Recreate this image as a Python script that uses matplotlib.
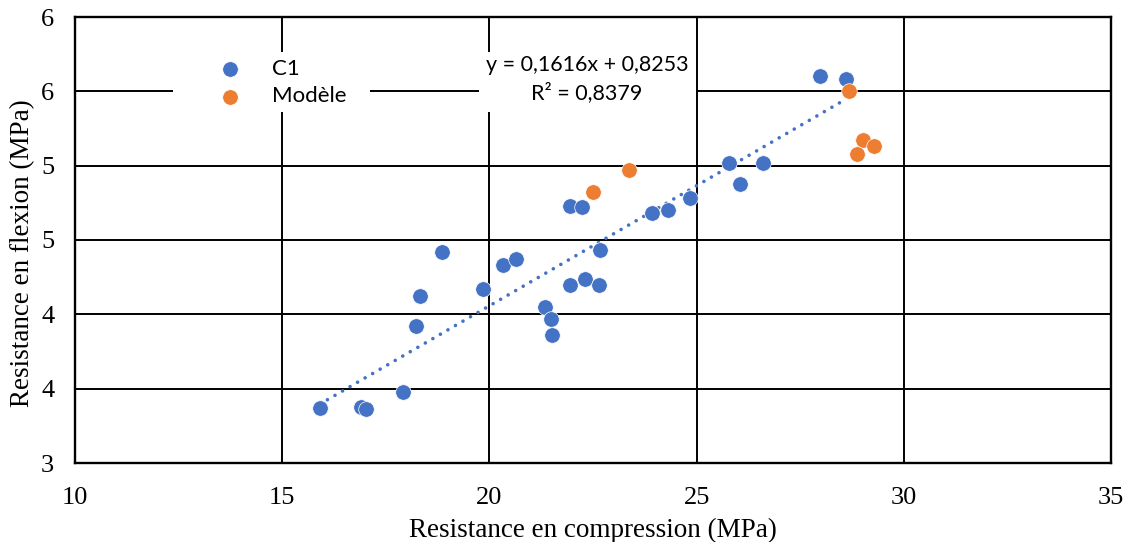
import matplotlib
matplotlib.use("Agg")
import matplotlib.pyplot as plt
from matplotlib.patches import Rectangle
import numpy as np

# ---- data ----
c1_x = [15.91, 16.90, 17.02, 17.91, 18.23, 18.32, 18.85, 19.84, 20.33, 20.64,
        21.34, 21.48, 21.51, 21.94, 22.30, 22.64, 22.67, 21.94, 22.23, 23.92,
        24.31, 24.84, 25.78, 26.04, 26.60, 27.97, 28.60]
c1_y = [3.37, 3.38, 3.36, 3.48, 3.92, 4.12, 4.42, 4.17, 4.33, 4.37,
        4.05, 3.97, 3.86, 4.20, 4.24, 4.20, 4.43, 4.73, 4.72, 4.68,
        4.70, 4.78, 5.02, 4.88, 5.02, 5.60, 5.58]
mod_x = [22.50, 23.37, 28.67, 29.01, 28.87, 29.28]
mod_y = [4.82, 4.97, 5.50, 5.17, 5.08, 5.13]

trend_slope = 0.1616
trend_intercept = 0.8253
trend_r2 = 0.8379

x_ticks = [10, 15, 20, 25, 30, 35]
y_ticks = [3.0, 3.5, 4.0, 4.5, 5.0, 5.5, 6.0]
y_tick_labels = ["3", "4", "4", "5", "5", "6", "6"]

series_names = ["C1", "Modèle"]
x_title = "Resistance en compression (MPa)"
y_title = "Resistance en flexion (MPa)"

BLUE = "#4472C4"
ORANGE = "#ED7D31"

W, H = 1128, 542
fig = plt.figure(figsize=(W / 100, H / 100), dpi=100)
ax = fig.add_axes([75 / W, 1 - 463 / H, 1036 / W, 446 / H])

ax.set_xlim(10, 35)
ax.set_ylim(3, 6)
ax.set_xticks(x_ticks)
ax.set_yticks(y_ticks)
ax.set_yticklabels(y_tick_labels)
ax.tick_params(length=0, labelsize=19, pad=0)
ax.tick_params(axis="x", pad=17)
ax.tick_params(axis="y", pad=15)
for lab in ax.get_xticklabels() + ax.get_yticklabels():
    lab.set_fontfamily("Liberation Serif")

ax.set_axisbelow(True)
ax.grid(True, color="black", linewidth=1.4, zorder=0.5)
for sp in ax.spines.values():
    sp.set_linewidth(1.7)
    sp.set_color("black")

# white boxes behind legend and equation (as in the Excel chart)
ax.add_patch(Rectangle(((173 - 75) / 1036, (463 - 112) / 446), (370 - 173) / 1036, 60 / 446,
                       transform=ax.transAxes, facecolor="white", edgecolor="none", zorder=1))
ax.add_patch(Rectangle(((479 - 75) / 1036, (463 - 112) / 446), (696 - 479) / 1036, 60 / 446,
                       transform=ax.transAxes, facecolor="white", edgecolor="none", zorder=1))

# trendline
tx = np.array([min(c1_x), max(c1_x)])
ty = trend_slope * tx + trend_intercept
ax.plot(tx, ty, color=BLUE, linewidth=2.6, linestyle=(0, (0.01, 2.4)),
        dash_capstyle="round", zorder=2)

s1 = ax.scatter(c1_x, c1_y, s=125, color=BLUE, edgecolors="white", linewidths=0.5,
                zorder=3, label=series_names[0])
s2 = ax.scatter(mod_x, mod_y, s=125, color=ORANGE, edgecolors="white", linewidths=0.5,
                zorder=3, label=series_names[1])

leg = ax.legend(handles=[s1, s2], loc="center left",
                bbox_to_anchor=((219 - 75) / 1036, (463 - 82.5) / 446),
                frameon=False, borderpad=0, handlelength=1.0, handletextpad=1.4,
                labelspacing=0.35, borderaxespad=0, scatterpoints=1,
                prop={"family": "Lato", "size": 16})

eq = "y = {:.4f}x + {:.4f}".format(trend_slope, trend_intercept).replace(".", ",")
r2 = "R² = {:.4f}".format(trend_r2).replace(".", ",")
ax.text((587 - 75) / 1036, (463 - 79) / 446, eq + "\n" + r2, transform=ax.transAxes,
        ha="center", va="center", fontsize=15.5, family="Lato", linespacing=1.38, zorder=4)

ax.set_xlabel(x_title, fontsize=19.5, family="Liberation Serif")
ax.set_ylabel(y_title, fontsize=19.5, family="Liberation Serif")
ax.xaxis.set_label_coords(0.5, (463 - 530) / 446)
ax.yaxis.set_label_coords((23 - 75) / 1036, (463 - 253) / 446)
ax.xaxis.label.set_va("center")
ax.yaxis.label.set_va("center")

fig.savefig("out.png", dpi=100)
